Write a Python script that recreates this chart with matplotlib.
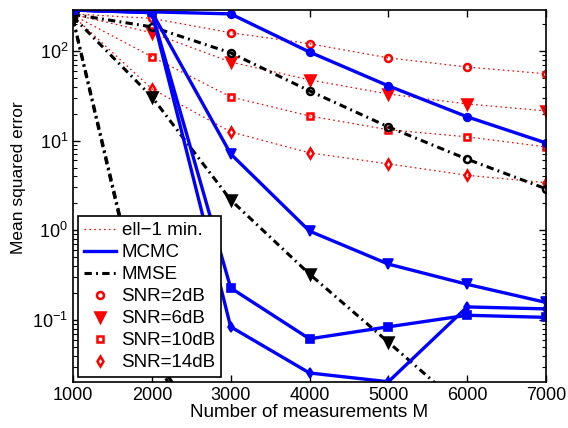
import numpy as np
import matplotlib
matplotlib.use("Agg")
import matplotlib.pyplot as plt
from matplotlib.lines import Line2D

plt.rcParams['font.family'] = ['Liberation Sans', 'DejaVu Sans']
plt.rcParams['mathtext.fontset'] = 'custom'
plt.rcParams['mathtext.rm'] = 'Liberation Sans'

# number of measurements
M = [1000, 2000, 3000, 4000, 5000, 6000, 7000]

# ell-1 minimisation
ell1_2dB = [258, 230, 159, 120, 83.5, 66, 55.5]
ell1_6dB = [255, 159, 75, 47.5, 33, 25.6, 21.4]
ell1_10dB = [250, 86, 30.7, 18.8, 13.2, 11, 8.5]
ell1_14dB = [245, 37.7, 12.5, 7.3, 5.5, 4.1, 3.4]

# MCMC
mcmc_2dB = [285, 272, 258, 97, 40.7, 18.4, 9.4]
mcmc_6dB = [285, 270, 7.1, 0.98, 0.42, 0.25, 0.157]
mcmc_10dB = [285, 268, 0.228, 0.0617, 0.084, 0.113, 0.107]
mcmc_14dB = [285, 266, 0.084, 0.0257, 0.0205, 0.14, 0.133]

# MMSE
mmse_2dB = [255, 185, 95, 35.8, 14.2, 6.2, 2.9]
mmse_6dB = [240, 30.7, 2.18, 0.325, 0.0567, 0.0097, 0.002]
mmse_10dB = [230, 0.045, 0.002, 0.0005, 0.0002, 0.0001, 0.0001]
mmse_14dB = [225, 0.04, 0.0015, 0.0004, 0.0002, 0.0001, 0.0001]

snr_labels = ['SNR=2dB', 'SNR=6dB', 'SNR=10dB', 'SNR=14dB']
markers = ['o', 'v', 's', 'd']

dotted = (0, (1.3, 2.6))
dashdot = (0, (2.4, 1.4, 0.6, 1.4))


def msize(mk, base):
    return base + 1.5 if mk == 'v' else base


fig = plt.figure(figsize=(5.68, 4.28), dpi=100)
ax = fig.add_axes([0.1285, 0.108, 0.8328, 0.8686])

for ys, mk in zip([ell1_2dB, ell1_6dB, ell1_10dB, ell1_14dB], markers):
    ax.semilogy(M, ys, color='red', ls=dotted, lw=0.9, marker=mk, ms=msize(mk, 5),
                mfc='red' if mk == 'v' else 'none', mec='red', mew=1.8)

for ys, mk in zip([mmse_2dB, mmse_6dB, mmse_10dB, mmse_14dB], markers):
    ax.semilogy(M, ys, color='black', ls=dashdot, lw=2.2, marker=mk, ms=msize(mk, 5),
                mfc='black' if mk == 'v' else 'none', mec='black', mew=1.8)

for ys, mk in zip([mcmc_2dB, mcmc_6dB, mcmc_10dB, mcmc_14dB], markers):
    ax.semilogy(M, ys, color='#0000ff', ls='-', lw=2.4, marker=mk, ms=msize(mk, 5.5),
                mfc='#0000ff', mec='#0000ff', mew=1.2)

ax.set_xlim(1000, 7000)
ax.set_ylim(0.0205, 285)
ax.set_xticks(M)
ax.tick_params(which='both', direction='in', top=True, right=True, labelsize=13)
ax.tick_params(which='major', length=5, width=1)
ax.tick_params(which='minor', length=3, width=0.8)
for s in ax.spines.values():
    s.set_linewidth(1.2)

ax.set_xlabel('Number of measurements M', fontsize=13.6, labelpad=0)
ax.set_ylabel('Mean squared error', fontsize=12.5)
ax.yaxis.set_label_coords(-0.1, 0.55)

handles = [
    Line2D([], [], color='red', ls=dotted, lw=0.9),
    Line2D([], [], color='#0000ff', ls='-', lw=2.4),
    Line2D([], [], color='black', ls=dashdot, lw=2.2),
]
for mk in markers:
    handles.append(Line2D([], [], color='red', ls='none', marker=mk,
                          ms=msize(mk, 5), mfc='red' if mk == 'v' else 'none', mew=1.8))
labels = ['ell\u22121 min.', 'MCMC', 'MMSE'] + snr_labels
leg = ax.legend(handles, labels, loc='lower left', bbox_to_anchor=(0.0106, 0.0134),
                fontsize=13.5, frameon=True, fancybox=False, edgecolor='black',
                framealpha=1, handlelength=1.75, handletextpad=0.27,
                labelspacing=0.26, borderpad=0.3, borderaxespad=0)
leg.get_frame().set_linewidth(1.2)

fig.savefig('out.png', dpi=100)
